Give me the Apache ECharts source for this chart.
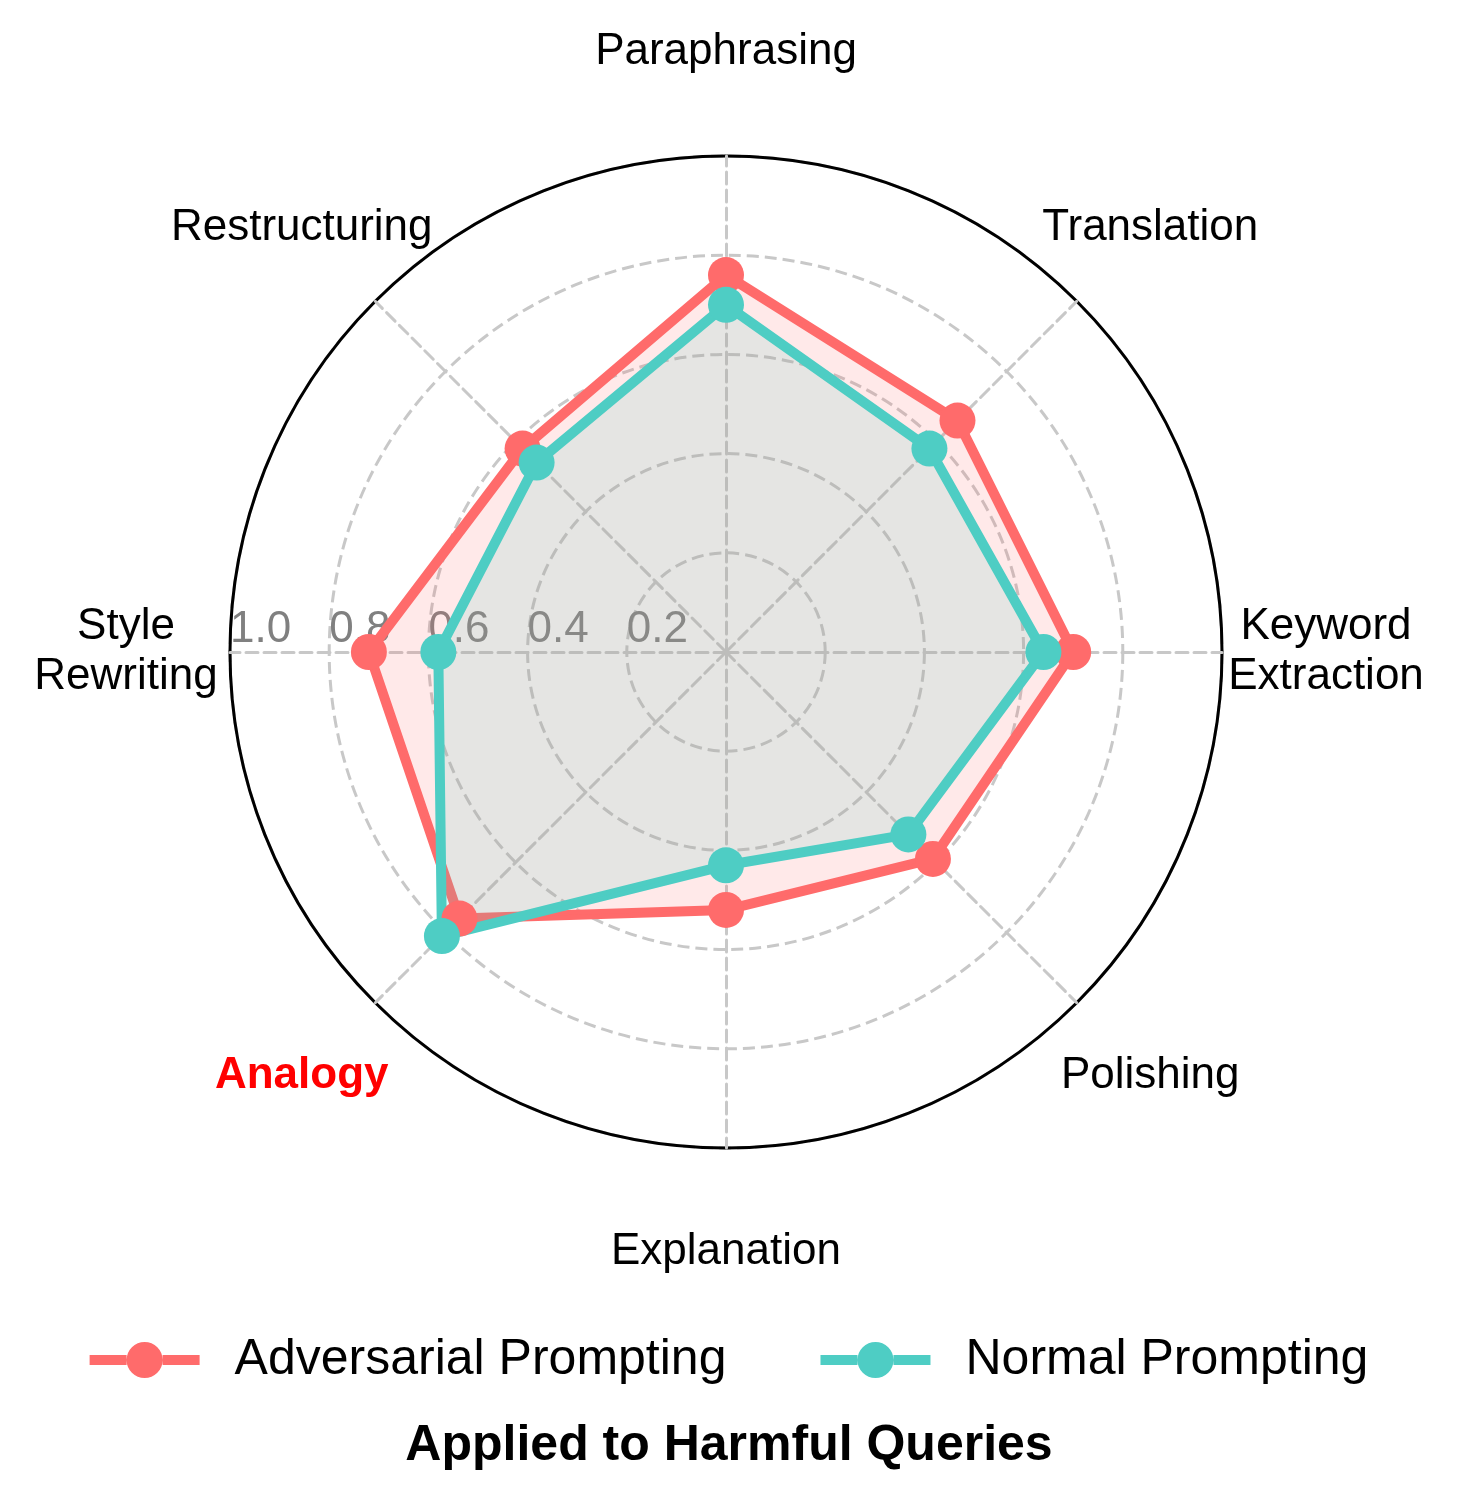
<!DOCTYPE html>
<html>
<head>
<meta charset="utf-8">
<script src="https://cdn.jsdelivr.net/npm/echarts@6/dist/echarts.min.js"></script>
<style>
  html, body { margin: 0; padding: 0; background: #fff; }
  #chart { width: 1458px; height: 1501px; }
</style>
</head>
<body>
<div id="chart"></div>
<script>
// categories, counter-clockwise from the top (radar default direction)
var categories = ['Paraphrasing', 'Restructuring', 'Style\nRewriting', 'Analogy',
                  'Explanation', 'Polishing', 'Keyword\nExtraction', 'Translation'];
var adversarial = [0.76, 0.58, 0.72, 0.76, 0.52, 0.59, 0.70, 0.66];
var normal      = [0.70, 0.54, 0.58, 0.81, 0.43, 0.52, 0.64, 0.58];
var tickLabels = ['0.2', '0.4', '0.6', '0.8', '1.0'];
var seriesNames = ['Adversarial Prompting', 'Normal Prompting'];
var highlight = 'Analogy';

var FONT = 'Liberation Sans, Arial, sans-serif';
var RED = '#FF6B6B', TEAL = '#4ECDC4';
var CX = 726, CY = 652, R = 496;

var dom = document.getElementById('chart');
var myChart = echarts.init(dom);

var indicators = categories.map(function (c) {
    var ind = { name: c, min: 0, max: 1 };
    if (c === 'Style\nRewriting') {
        // radial tick labels only on this spoke
        ind.axisLabel = {
            show: true,
            color: '#808080',
            fontSize: 44,
            fontFamily: FONT,
            align: 'left',
            verticalAlign: 'middle',
            margin: -22,
            formatter: function (v, i) {
                return i === 0 ? '' : tickLabels[i - 1];
            }
        };
    }
    return ind;
});

var legendIcon = 'path://M0,13H37V23H0Z M73,13H110V23H73Z M37,18A18,18 0 1,1 73,18A18,18 0 1,1 37,18Z';

option = {
    backgroundColor: '#fff',
    title: {
        text: 'Applied to Harmful Queries',
        left: 'center',
        top: 1416,
        textStyle: { fontSize: 50, fontWeight: 'bold', color: '#000', fontFamily: FONT }
    },
    legend: {
        data: [
            { name: seriesNames[0], icon: legendIcon, itemStyle: { color: RED } },
            { name: seriesNames[1], icon: legendIcon, itemStyle: { color: TEAL } }
        ],
        left: 'center',
        top: 1330,
        itemWidth: 110,
        itemHeight: 36,
        itemGap: 94,
        textStyle: { fontSize: 50, color: '#000', fontFamily: FONT, padding: [0, 0, 0, 30] }
    },
    polar: { center: [CX, CY], radius: R },
    angleAxis: {
        type: 'value', min: 0, max: 360,
        axisLine: { lineStyle: { color: '#000', width: 3 } },
        axisTick: { show: false },
        axisLabel: { show: false },
        splitLine: { show: false }
    },
    radiusAxis: { show: false, min: 0, max: 1 },
    radar: {
        center: [CX, CY],
        radius: R,
        startAngle: 90,
        shape: 'circle',
        splitNumber: 5,
        indicator: indicators,
        axisNameGap: 104,
        axisName: {
            color: '#000',
            fontSize: 44,
            fontFamily: FONT,
            align: 'center',
            verticalAlign: 'middle',
            lineHeight: 50,
            formatter: function (name) {
                return name === highlight ? '{hl|' + name + '}' : name;
            },
            rich: {
                hl: { color: '#ff0000', fontWeight: 'bold', fontSize: 44, fontFamily: FONT }
            }
        },
        axisLabel: { show: false },
        axisTick: { show: false },
        axisLine: { lineStyle: { color: '#c8c8c8', width: 3, type: [12, 6] } },
        splitLine: { lineStyle: { color: '#c8c8c8', width: 3, type: [12, 6] } },
        splitArea: { show: false }
    },
    series: [{
        type: 'radar',
        symbol: 'circle',
        symbolSize: 36,
        data: [
            {
                name: seriesNames[0],
                value: adversarial,
                lineStyle: { color: RED, width: 10 },
                itemStyle: { color: RED },
                areaStyle: { color: RED, opacity: 0.15 }
            },
            {
                name: seriesNames[1],
                value: normal,
                lineStyle: { color: TEAL, width: 10 },
                itemStyle: { color: TEAL },
                areaStyle: { color: TEAL, opacity: 0.15 }
            }
        ]
    }]
};

if (option && typeof option === 'object') {
    myChart.setOption(option, true);
}
</script>
</body>
</html>
